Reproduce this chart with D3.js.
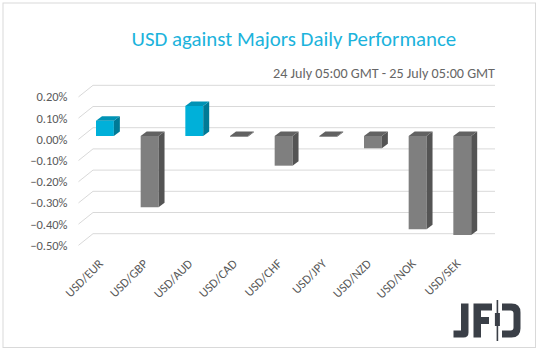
<!DOCTYPE html>
<html><head><meta charset="utf-8">
<script src="https://cdn.jsdelivr.net/npm/d3@7"></script>
<style>html,body{margin:0;padding:0;background:#fff;}svg{display:block;}</style>
</head><body>
<script>
const categories = ["USD/EUR","USD/GBP","USD/AUD","USD/CAD","USD/CHF","USD/JPY","USD/NZD","USD/NOK","USD/SEK"];
const values = [0.072, -0.336, 0.142, -0.004, -0.140, -0.004, -0.058, -0.440, -0.467];
const yTicks = [0.2, 0.1, 0.0, -0.1, -0.2, -0.3, -0.4, -0.5];
const titleText = "USD against Majors Daily Performance";
const subtitleText = "24 July 05:00 GMT - 25 July 05:00 GMT";

const W = 538, H = 351;
const FONT = "Carlito, Lato, 'Open Sans', sans-serif";
const svg = d3.select("body").append("svg").attr("width", W).attr("height", H);

svg.append("rect").attr("x", 3).attr("y", 3).attr("width", 532.5).attr("height", 344.5)
  .attr("fill", "#fff").attr("stroke", "#d9d9d9").attr("stroke-width", 1);

// back wall scales
const y = d3.scaleLinear().domain([-0.5, 0.2]).range([233.7, 85.3]);
const xBackL = 93, xBackR = 495;
const frontOff = [-14.5, 11.6];
const barOff = [-10.4, 8.3];
const depth = [6, -4.5];

const x = d3.scaleBand().domain(categories)
  .range([xBackL + barOff[0], xBackR + barOff[0]])
  .paddingInner(0.6).paddingOuter(0.3);

// gridlines
const grid = svg.append("g").attr("stroke", "#d9d9d9").attr("stroke-width", 1).attr("fill", "none");
yTicks.forEach(t => {
  const yb = y(t);
  grid.append("path").attr("d",
    `M${xBackL + frontOff[0]},${yb + frontOff[1]}L${xBackL},${yb}L${xBackR},${yb}`);
});

// y labels
const yAxis = d3.axisLeft(y).tickValues(yTicks).tickFormat(d => d3.format(".2f")(d) + "%").tickSize(0).tickPadding(0);
const yg = svg.append("g").attr("transform", `translate(67.5,${frontOff[1]})`).call(yAxis);
yg.select(".domain").remove();
yg.selectAll("text").attr("font-family", FONT).attr("font-size", 12.5).attr("fill", "#595959");

// bars
const colors = {
  pos: {front: "#00b0d9", side: "#007a96", top: "#0093b5"},
  neg: {front: "#7f7f7f", side: "#545454", top: "#626262"}
};
const bars = svg.append("g");
categories.forEach((c, i) => {
  const v = values[i];
  const col = v >= 0 ? colors.pos : colors.neg;
  const x0 = x(c), x1 = x0 + x.bandwidth();
  const yTop = y(Math.max(v, 0)) + barOff[1];
  const yBot = y(Math.min(v, 0)) + barOff[1];
  const [dx, dy] = depth;
  const g = bars.append("g");
  g.append("path").attr("fill", col.front)
    .attr("d", `M${x0},${yTop}L${x1},${yTop}L${x1},${yBot}L${x0},${yBot}Z`);
  g.append("path").attr("fill", col.side)
    .attr("d", `M${x1},${yTop}L${x1 + dx},${yTop + dy}L${x1 + dx},${yBot + dy}L${x1},${yBot}Z`);
  g.append("path").attr("fill", col.top)
    .attr("d", `M${x0},${yTop}L${x1},${yTop}L${x1 + dx},${yTop + dy}L${x0 + dx},${yTop + dy}Z`);
});

// x labels
const xl = svg.append("g");
categories.forEach(c => {
  const cx = x(c) + x.bandwidth() / 2 - 1;
  const cy = 264.5;
  xl.append("text").attr("x", cx).attr("y", cy)
    .attr("transform", `rotate(-45,${cx},${cy})`)
    .attr("text-anchor", "end")
    .attr("font-family", FONT).attr("font-size", 12.5).attr("fill", "#595959")
    .text(c);
});

// title
function fitText(sel, target) {
  const len = sel.node().getComputedTextLength();
  const fs = parseFloat(sel.attr("font-size"));
  sel.attr("font-size", fs * target / len);
}
const title = svg.append("text").attr("x", 131.5).attr("y", 46)
  .attr("font-family", FONT).attr("font-size", 19).attr("fill", "#1cb3dc").text(titleText);
fitText(title, 325);
const sub = svg.append("text").attr("x", 495).attr("y", 77.5).attr("text-anchor", "end")
  .attr("font-family", FONT).attr("font-size", 12).attr("fill", "#666666").text(subtitleText);
fitText(sub, 222);

// JFD logo
const logo = svg.append("g").attr("fill", "#3a3f47");
// J
logo.append("path").attr("d", "M461,303.5H468.5V332.5Q468.5,337.5 463.5,337.5H453.5V330.5H461Z");
// F
logo.append("path").attr("d", "M473.5,303.5H492V310.5H481V317H489V324H481V337.5H473.5Z");
// candle
logo.append("rect").attr("x", 496.6).attr("y", 300).attr("width", 1.6).attr("height", 41);
logo.append("rect").attr("x", 494.9).attr("y", 313).attr("width", 5).attr("height", 13);
// D bowl
logo.append("path").attr("d", "M502,303.5H511.5Q520.5,303.5 520.5,312.5V328.5Q520.5,337.5 511.5,337.5H502V330.5H510.5Q513.5,330.5 513.5,327.5V313.5Q513.5,310.5 510.5,310.5H502Z");
</script>
</body></html>
